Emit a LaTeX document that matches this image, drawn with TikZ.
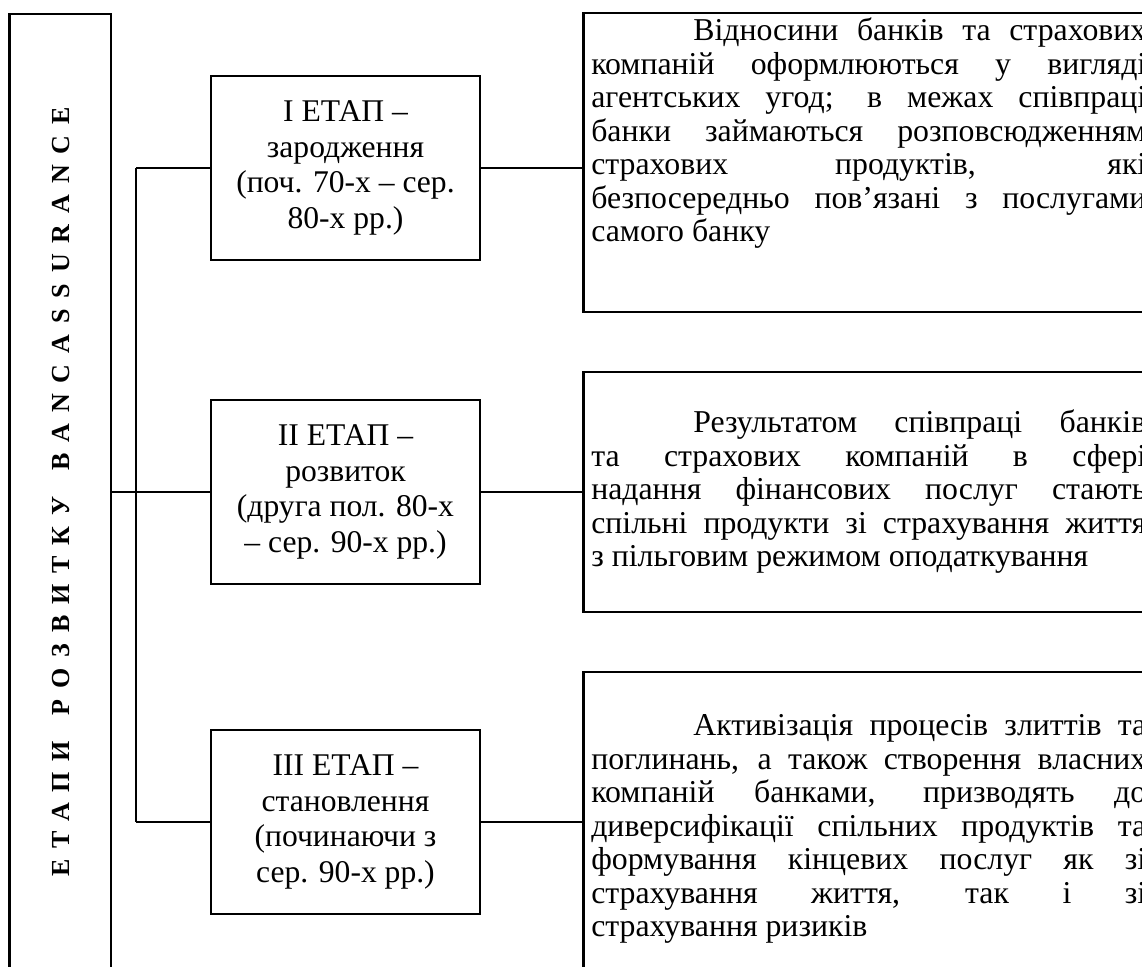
\documentclass[tikz,border=0pt]{standalone}
\usepackage{fontspec}
\setmainfont{Liberation Serif}
\usepackage{tikz}
\tikzset{>=latex}
\colorlet{liniya}{black}

\tikzset{
    ramka/.style={draw=liniya, line width=1.3pt},
    etap/.style={ramka, minimum width=134.5pt, minimum height=92pt, inner sep=0pt,
        align=center, font=\fontsize{15.8}{17.8}\selectfont},
    opys/.style={ramka, anchor=west, text width=277.5pt, align=justify, inner xsep=4pt,
        inner ysep=0pt, font=\fontsize{15.9}{16.75}\selectfont},
    zv/.style={liniya, line width=1.3pt}
}

\begin{document}
\begin{tikzpicture}[x=0.5pt, y=-0.5pt]
    \useasboundingbox (0,0) rectangle (1142,966);
    \clip (0,0) rectangle (1142,966);
    \begin{scope}

        \node[ramka, minimum width=50.75pt, minimum height=478pt] (etapy) at (60.25, 492) {};
        \node[rotate=90, font=\fontsize{13}{15}\selectfont\bfseries] (napys) at (61, 492)
            {\addfontfeature{LetterSpace=42}ЕТАПИ\quad РОЗВИТКУ\quad BANCASSURANCE};

        \coordinate (vuzol) at (136, 492);

        \node[etap] (s1) at (345.5, 168) {I ЕТАП –\\зародження\\(поч. 70-х – сер.\\80-х рр.)};
        \node[etap] (s2) at (345.5, 492) {II ЕТАП –\\розвиток\\(друга пол. 80-х\\– сер. 90-х рр.)};
        \node[etap] (s3) at (345.5, 822) {III ЕТАП –\\становлення\\(починаючи з\\сер. 90-х рр.)};

        \node[opys, minimum height=149.5pt] (r1) at (582, 162.5)
            {\hspace*{51pt}Відносини банків та страхових\linebreak
            компаній оформлюються у вигляді\linebreak
            агентських угод; в межах співпраці\linebreak
            банки займаються розповсюдженням\linebreak
            страхових продуктів, які\linebreak
            безпосередньо пов’язані з послугами\linebreak
            самого банку\rule[-32.5pt]{0pt}{0pt}};
        \node[opys, minimum height=120pt] (r2) at (582, 492)
            {\hspace*{51pt}Результатом співпраці банків\linebreak
            та страхових компаній в сфері\linebreak
            надання фінансових послуг стають\linebreak
            спільні продукти зі страхування життя\linebreak
            з пільговим режимом оподаткування};
        \node[opys, minimum height=157pt] (r3) at (582, 829)
            {\hspace*{51pt}Активізація процесів злиттів та\linebreak
            поглинань, а також створення власних\linebreak
            компаній банками, призводять до\linebreak
            диверсифікації спільних продуктів та\linebreak
            формування кінцевих послуг як зі\linebreak
            страхування життя, так і зі\linebreak
            страхування ризиків};

        \draw[zv] (etapy.east) -- (vuzol);
        \draw[zv] (s1.west -| vuzol) -- (s3.west -| vuzol);
        \foreach \i in {1,2,3}
        {
            \draw[zv] (s\i.west -| vuzol) -- (s\i.west);
            \draw[zv] (s\i.east) -- (s\i.east -| r\i.west);
        }
    \end{scope}
\end{tikzpicture}
\end{document}
